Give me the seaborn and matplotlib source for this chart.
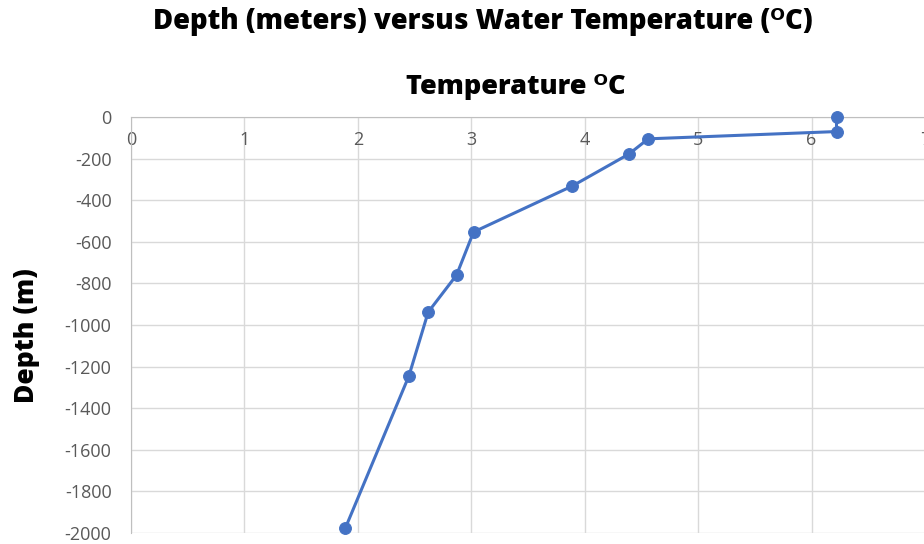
import matplotlib
matplotlib.use("Agg")
import matplotlib.pyplot as plt
import seaborn as sns
import pandas as pd

# valeurs
temperature = [6.22, 6.22, 4.56, 4.39, 3.89, 3.02, 2.87, 2.62, 2.45, 1.89]
depth = [0, -70, -105, -178, -332, -553, -760, -938, -1245, -1976]
x_ticks = [0, 1, 2, 3, 4, 5, 6, 7]
y_ticks = list(range(-2000, 1, 200))

df = pd.DataFrame({"Temperature": temperature, "Depth": depth})

sns.set_style("white")
plt.rcParams["font.family"] = ["Open Sans", "DejaVu Sans"]
plt.rcParams["axes.unicode_minus"] = False

fig = plt.figure(figsize=(9.24, 5.44), dpi=100)
ax = fig.add_axes([131 / 924, 11 / 544, (925 - 131) / 924, (533 - 117) / 544])

blue = "#4472C4"
sns.lineplot(data=df, x="Temperature", y="Depth", sort=False, estimator=None,
             color=blue, linewidth=2.2, marker="o", markersize=8.5,
             markeredgecolor=blue, ax=ax, clip_on=False, zorder=3)

ax.set_xlim(0, 7)
ax.set_ylim(-2000, 0)
ax.set_xticks(x_ticks)
ax.set_yticks(y_ticks)
ax.grid(True, color="#D9D9D9", linewidth=1)
ax.set_axisbelow(True)

for s in ["top", "right"]:
    ax.spines[s].set_visible(False)
ax.spines["bottom"].set_position(("data", 0))
ax.spines["bottom"].set_color("#BFBFBF")
ax.spines["left"].set_color("#BFBFBF")
ax.tick_params(axis="both", length=0, labelsize=13, colors="#595959")
ax.tick_params(axis="x", pad=10)
ax.tick_params(axis="y", pad=14)

ax.set_xlabel("")
ax.set_ylabel("")
fig.text(483 / 924, 1 - 22 / 544, "Depth (meters) versus Water Temperature (ᴼC)",
         ha="center", va="center", fontsize=19.8, fontweight="heavy", color="black")
fig.text(516 / 924, 1 - 87 / 544, "Temperature ᴼC",
         ha="center", va="center", fontsize=19.5, fontweight="heavy", color="black")
fig.text(27 / 924, 1 - 336 / 544, "Depth (m)", rotation=90,
         ha="center", va="center", fontsize=19, fontweight="heavy", color="black")

fig.savefig("out.png", dpi=100)
